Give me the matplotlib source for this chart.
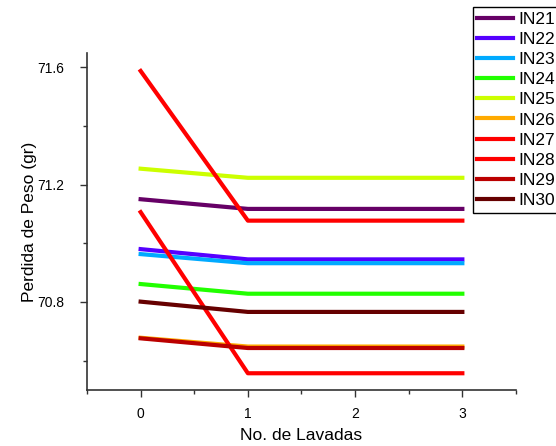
import matplotlib.pyplot as plt
from matplotlib.ticker import MultipleLocator

plt.rcParams['font.family'] = ['Liberation Sans', 'DejaVu Sans']

lavadas = [0, 1, 2, 3]
labels = ['IN21', 'IN22', 'IN23', 'IN24', 'IN25', 'IN26', 'IN27', 'IN28', 'IN29', 'IN30']
series = [
    [71.150, 71.117, 71.117, 71.117],
    [70.980, 70.945, 70.945, 70.945],
    [70.963, 70.932, 70.932, 70.932],
    [70.861, 70.828, 70.828, 70.828],
    [71.254, 71.223, 71.223, 71.223],
    [70.678, 70.648, 70.648, 70.648],
    [71.106, 70.557, 70.557, 70.557],
    [71.587, 71.077, 71.077, 71.077],
    [70.676, 70.643, 70.643, 70.643],
    [70.801, 70.766, 70.766, 70.766],
]
colors = ['#660066', '#5500ff', '#00aaff', '#22ff00', '#ccff00',
          '#ffaa00', '#ff0000', '#ff0000', '#bb0000', '#660000']

fig = plt.figure(figsize=(5.56, 4.46), dpi=100)
ax = fig.add_axes([0.1565, 0.1256, 0.7715, 0.7554])

for lab, vals, c in zip(labels, series, colors):
    ax.plot(lavadas, vals, color=c, lw=3, label=lab)

ax.set_xlim(-0.5, 3.5)
ax.set_ylim(70.50, 71.648)
ax.xaxis.set_major_locator(MultipleLocator(1))
ax.xaxis.set_minor_locator(MultipleLocator(0.5))
ax.yaxis.set_major_locator(MultipleLocator(0.4))
ax.yaxis.set_minor_locator(MultipleLocator(0.2))
ax.tick_params(which='both', direction='out', color='#333333', width=1)
ax.tick_params(which='major', length=5, labelsize=10)
ax.tick_params(which='minor', length=3)
ax.tick_params(axis='x', which='major', pad=7)
ax.tick_params(axis='y', which='major', pad=11.5)
for s in ['top', 'right']:
    ax.spines[s].set_visible(False)
for s in ['left', 'bottom']:
    ax.spines[s].set_color('#333333')
    ax.spines[s].set_linewidth(1.2)

ax.set_xlabel('No. de Lavadas', fontsize=12.5, labelpad=5)
ax.set_ylabel('Perdida de Peso (gr)', fontsize=12.5, labelpad=0)

leg = fig.legend(loc='upper left', bbox_to_anchor=(0.850, 0.984), fontsize=12.5,
                 fancybox=False, edgecolor='black', handlelength=2.1,
                 handletextpad=0.3, labelspacing=0.29, borderpad=0.25,
                 borderaxespad=0, framealpha=1)
leg.get_frame().set_linewidth(1.0)

fig.savefig('out.png', dpi=100)
